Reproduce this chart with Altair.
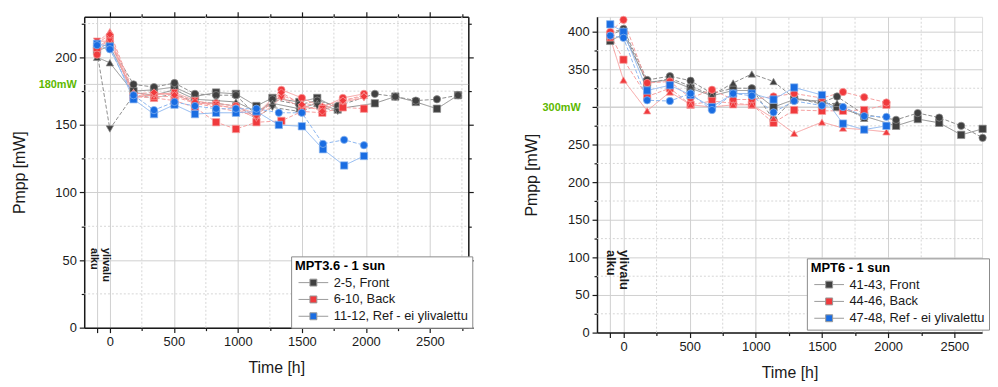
import altair as alt
import pandas as pd

FONT = "Liberation Sans"
INK = "#1a1a1a"
GRID = "#cfcfcf"
GRID_MINOR = "#d6d6d6"
GREEN = "#5db800"
MARK = ["#404040", "#f03a3d", "#1a6de2"]
LINE = ["#8e8e8e", "#f6a0a0", "#8db6ef"]

# ---------------- left panel: MPT3.6 ----------------
GROUPS_L = ["2-5, Front", "6-10, Back", "11-12, Ref - ei ylivalettu"]

L_FRONT_T = [-100, 0, 185, 345, 505, 665, 830, 985, 1145, 1270, 1480, 1620, 1780, 2070, 2230, 2390, 2555, 2720]
L_FRONT_SQ = [205, 208, 175, 176, 178, 171, 174, 173, 164, 170, 167, 170, 162, 166, 171, 167, 162, 172]
L_FRONT_CI = [207, 210, 180, 178, 181, 173, 172, 172, 157, 169, 165, 168, 164, 173, 171, 168, 169, 172]
L_FRONT_TU = [200, 196, 174, 172, 176, 169, 168, 167, 160, 166, 162, 166, 161, None, None, None, None, None]
L_FRONT_TD = [204, 147, 172, 170, 173, 167, 166, 164, 156, 163, 160, 164, 160, None, None, None, None, None]

L_BACK_T = [-100, 0, 185, 345, 505, 665, 830, 985, 1145, 1340, 1500, 1660, 1820, 1985]
L_BACK_SQ = [207, 214, 171, 170, 168, 163, 152, 147, 152, 153, 160, 159, 163, 162]
L_BACK_CI = [202, 216, 170, 173, 173, 166, 166, 164, 158, 176, 170, 163, 170, 173]
L_BACK_TU = [211, 219, 174, 171, 171, 166, 163, 160, 157, 172, 166, 164, 168, 172]
L_BACK_TD = [212, 212, 171, 172, 174, 168, 165, 162, 155, 170, 163, 162, 167, 170]
L_BACK_DI = [210, 217, 173, 174, 172, 167, 164, 163, 157, 174, 165, 160, 168, 171]

L_REF_T = [-100, 0, 185, 345, 505, 665, 830, 985, 1145, 1320, 1500, 1665, 1830, 1985]
L_REF_SQ = [210, 208, 169, 158, 165, 158, 159, 159, 160, 150, 149, 132, 120, 127]
L_REF_CI = [209, 206, 172, 161, 167, 164, 162, 162, 162, 159, 159, 136, 139, 135]

# ---------------- right panel: MPT6 ----------------
GROUPS_R = ["41-43, Front", "44-46, Back", "47-48, Ref - ei ylivalettu"]

R_FRONT_T = [-100, 0, 179, 351, 507, 669, 829, 970, 1134, 1290, 1498, 1614, 1819, 2060, 2224, 2386, 2552, 2714]
R_FRONT_SQ = [388, 397, 333, 336, 325, 315, 322, 322, 300, 310, 308, 300, 288, 275, 284, 279, 263, 271]
R_FRONT_CI = [395, 404, 336, 341, 335, 318, 325, 325, 283, 312, 306, 314, 290, 283, 292, 286, 275, 259]
R_FRONT_TU = [401, 402, 331, 338, 328, 316, 332, 344, 334, 312, 304, 305, 285, None, None, None, None, None]

R_BACK_T = [-100, 0, 179, 351, 507, 669, 829, 970, 1134, 1290, 1500, 1659, 1819, 1987]
R_BACK_SQ = [396, 363, 314, 325, 303, 308, 305, 303, 279, 296, 295, 295, 296, 303]
R_BACK_CI = [400, 416, 332, 334, 312, 323, 310, 310, 314, 318, 312, 320, 313, 306]
R_BACK_TU = [392, 336, 295, 320, 303, 300, 303, 303, 285, 265, 280, 272, 270, 267]

R_REF_T = [-100, 0, 179, 351, 507, 669, 829, 970, 1134, 1290, 1500, 1659, 1819, 1987]
R_REF_SQ = [410, 400, 322, 329, 316, 300, 318, 318, 310, 326, 316, 278, 270, 275]
R_REF_CI = [395, 392, 309, 308, 318, 296, 318, 315, 293, 308, 302, 300, 288, 287]

# axis tick values
L_MAJOR_X = [-100, 0, 500, 1000, 1500, 2000, 2500]
L_MINOR_X = [250, 750, 1250, 1750, 2250, 2750]
L_MAJOR_Y = [0, 50, 100, 150, 200]
L_MINOR_Y = [25, 75, 125, 175, 225]
R_MAJOR_X = [-100, 0, 500, 1000, 1500, 2000, 2500]
R_MINOR_X = [250, 750, 1250, 1750, 2250]
R_MAJOR_Y = [0, 50, 100, 150, 200, 250, 300, 350, 400]
R_MINOR_Y = [25, 75, 125, 175, 225, 275, 325, 375]

ANN_TEXT = "ylivalu\nalku"


def build(rows):
    recs = []
    for g, s, shp, dash, ts, vs in rows:
        for t, v in zip(ts, vs):
            if v is None:
                continue
            recs.append(dict(group=g, series=s, shape=shp, dash=dash, t=t, v=v))
    return pd.DataFrame(recs)


df_left = build([
    (GROUPS_L[0], "F2", "square", "s", L_FRONT_T, L_FRONT_SQ),
    (GROUPS_L[0], "F3", "circle", "d", L_FRONT_T, L_FRONT_CI),
    (GROUPS_L[0], "F4", "triangle-up", "s", L_FRONT_T, L_FRONT_TU),
    (GROUPS_L[0], "F5", "triangle-down", "d", L_FRONT_T, L_FRONT_TD),
    (GROUPS_L[1], "B6", "square", "d", L_BACK_T, L_BACK_SQ),
    (GROUPS_L[1], "B7", "circle", "s", L_BACK_T, L_BACK_CI),
    (GROUPS_L[1], "B8", "triangle-up", "d", L_BACK_T, L_BACK_TU),
    (GROUPS_L[1], "B9", "triangle-down", "s", L_BACK_T, L_BACK_TD),
    (GROUPS_L[1], "B10", "diamond", "d", L_BACK_T, L_BACK_DI),
    (GROUPS_L[2], "R11", "square", "s", L_REF_T, L_REF_SQ),
    (GROUPS_L[2], "R12", "circle", "d", L_REF_T, L_REF_CI),
])

df_right = build([
    (GROUPS_R[0], "F41", "square", "s", R_FRONT_T, R_FRONT_SQ),
    (GROUPS_R[0], "F42", "circle", "d", R_FRONT_T, R_FRONT_CI),
    (GROUPS_R[0], "F43", "triangle-up", "d", R_FRONT_T, R_FRONT_TU),
    (GROUPS_R[1], "B44", "square", "d", R_BACK_T, R_BACK_SQ),
    (GROUPS_R[1], "B45", "circle", "d", R_BACK_T, R_BACK_CI),
    (GROUPS_R[1], "B46", "triangle-up", "s", R_BACK_T, R_BACK_TU),
    (GROUPS_R[2], "R47", "square", "s", R_REF_T, R_REF_SQ),
    (GROUPS_R[2], "R48", "circle", "d", R_REF_T, R_REF_CI),
])

SYMBOL = "M-3,0H-0.7M0.7,0H3M-0.7,-0.7H0.7V0.7H-0.7Z"


def ax(**kw):
    base = dict(labelFont=FONT, labelFontSize=13, labelColor=INK, titleFont=FONT,
                titleFontSize=16, titleFontWeight="normal", titleColor=INK,
                tickColor=INK, domainColor=INK, tickWidth=1.2, domainWidth=1.5,
                labelFlush=False, labelOverlap=False)
    base.update(kw)
    return alt.Axis(**base)


def panel(df, groups, xdom, width, height, ydom, major_x, minor_x, major_y, minor_y,
          ref_v, ref_text, ref_pad, leg_title, leg_x, leg_y, ann_t, ann_v, ann_size, ann_lh, box):
    xs = alt.Scale(domain=xdom, nice=False, zero=False)
    ys = alt.Scale(domain=ydom, nice=False, zero=False)
    mx = pd.DataFrame({"t": minor_x})
    my = pd.DataFrame({"v": minor_y})
    xspan = {"x0": f"{xdom[0]}", "x1": f"{xdom[1]}"}
    yspan = {"y0": f"{ydom[0]}", "y1": f"{ydom[1]}"}

    def vrules(axis, **mk):
        return alt.Chart(mx).transform_calculate(**yspan).mark_rule(**mk).encode(
            x=alt.X("t:Q", scale=xs, axis=axis),
            y=alt.Y("y0:Q", scale=ys, axis=None),
            y2="y1:Q")

    def hrules(data, axis, **mk):
        return alt.Chart(data).transform_calculate(**xspan).mark_rule(**mk).encode(
            y=alt.Y("v:Q", scale=ys, axis=axis),
            x=alt.X("x0:Q", scale=xs, axis=None),
            x2="x1:Q")

    layers = []
    layers.append(vrules(ax(orient="bottom", values=minor_x, labels=False, grid=False,
                            domain=False, tickSize=3, title=None),
                         color=GRID_MINOR, strokeDash=[2, 2], strokeWidth=1))
    layers.append(hrules(my, ax(orient="left", values=minor_y, labels=False, grid=False,
                                domain=False, tickSize=3, title=None),
                         color=GRID_MINOR, strokeDash=[2, 2], strokeWidth=1))
    if box:
        layers.append(vrules(ax(orient="top", values=minor_x, labels=False, grid=False,
                                domain=False, tickSize=3, title=None), opacity=0))
        layers.append(hrules(my, ax(orient="right", values=minor_y, labels=False, grid=False,
                                    domain=False, tickSize=3, title=None), opacity=0))
    layers.append(hrules(pd.DataFrame({"v": [ref_v]}),
                         ax(orient="left", values=[ref_v], labelExpr=f"'{ref_text}'",
                            labelColor=GREEN, labelFontWeight="bold", labelFontSize=11,
                            ticks=False, domain=False, grid=False, labelPadding=ref_pad, title=None),
                         color=GRID, strokeWidth=1))
    # stroke scale uses the reversed domain so that its (disabled) legend is not merged with the fill legend
    stroke = alt.Stroke("group:N", scale=alt.Scale(domain=groups[::-1], range=LINE[::-1]), legend=None)
    layers.append(alt.Chart(df).mark_line(strokeWidth=1).encode(
        x=alt.X("t:Q", scale=xs, axis=ax(orient="bottom", values=major_x, format="d",
                                          labelExpr="datum.value < 0 ? '' : datum.label",
                                          grid=True, gridColor=GRID, gridWidth=1, tickSize=5,
                                          labelPadding=3, title="Time [h]", titlePadding=11)),
        y=alt.Y("v:Q", scale=ys, axis=ax(orient="left", values=major_y, format="d", grid=True,
                                          labelExpr=f"datum.value == {ref_v} ? '' : datum.label",
                                          gridColor=GRID, gridWidth=1, tickSize=5, labelPadding=3,
                                          title="Pmpp [mW]", titlePadding=28)),
        stroke=stroke,
        strokeDash=alt.StrokeDash("dash:N", scale=alt.Scale(domain=["s", "d"], range=[[1, 0], [4, 2]]),
                                  legend=None),
        detail="series:N",
        order="t:Q",
    ))
    leg = alt.Legend(title=leg_title, orient="none", legendX=leg_x, legendY=leg_y, direction="vertical",
                     symbolType=SYMBOL, symbolSize=100, symbolStrokeColor="#9a9a9a",
                     symbolStrokeWidth=1, symbolOffset=12, labelOffset=14,
                     titleFont=FONT, titleFontSize=13, titleFontWeight="bold", titleColor="#000000",
                     labelFont=FONT, labelFontSize=13, labelColor=INK, labelLimit=300,
                     padding=4, rowPadding=3, titlePadding=3, strokeColor="#8a8a8a",
                     fillColor="#ffffff", cornerRadius=0)
    pts_x_axis = ax(orient="top", values=[v for v in major_x if v >= 0], labels=False, grid=False,
                    tickSize=5, title=None) if box else None
    pts_y_axis = ax(orient="right", values=major_y, labels=False, grid=False,
                    tickSize=5, title=None) if box else None
    layers.append(alt.Chart(df).mark_point(filled=True, size=55, strokeWidth=0.7, opacity=1).encode(
        x=alt.X("t:Q", scale=xs, axis=pts_x_axis),
        y=alt.Y("v:Q", scale=ys, axis=pts_y_axis),
        fill=alt.Fill("group:N", scale=alt.Scale(domain=groups, range=MARK), legend=leg),
        stroke=stroke,
        shape=alt.Shape("shape:N", scale=None),
        detail="series:N",
    ))
    ann = pd.DataFrame({"t": [ann_t], "v": [ann_v], "label": [ANN_TEXT]})
    layers.append(alt.Chart(ann).mark_text(
        angle=90, align="left", baseline="top", font=FONT, lineBreak="\n",
        fontSize=ann_size, fontWeight="bold", lineHeight=ann_lh, color=INK).encode(
        x=alt.X("t:Q", scale=xs, axis=None),
        y=alt.Y("v:Q", scale=ys, axis=None),
        text="label:N",
    ))
    return alt.layer(*layers).resolve_axis(x="independent", y="independent").properties(
        width=width, height=height)


left = panel(df_left, GROUPS_L, [-200, 2800], 388, 314, [0, 230], L_MAJOR_X, L_MINOR_X,
             L_MAJOR_Y, L_MINOR_Y, 180, "180mW", 8, "MPT3.6 - 1 sun", 209, 242, 18, 59, 11, 12, True)
right = panel(df_right, GROUPS_R, [-200, 2710], 389, 319, [0, 420], R_MAJOR_X, R_MINOR_X,
              R_MAJOR_Y, R_MINOR_Y, 300, "300mW", 17, "MPT6 - 1 sun", 212, 244, 52, 110, 13, 14, False)

chart = alt.hconcat(left, right, spacing=48).resolve_scale(
    fill="independent", stroke="independent", shape="independent", strokeDash="independent"
).resolve_legend(fill="independent").configure_view(stroke=None).configure(
    font=FONT, background="white", padding={"left": 2, "top": 0, "right": 0, "bottom": 0})

chart.save("out.html", embed_options={"renderer": "svg", "actions": False})
